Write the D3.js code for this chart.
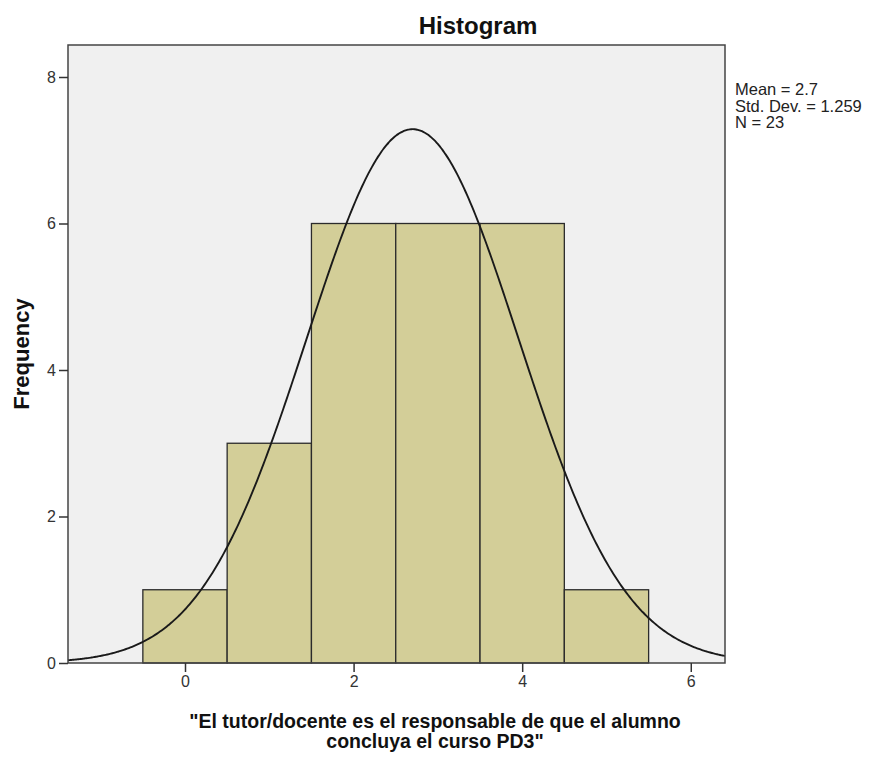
<!DOCTYPE html>
<html><head><meta charset="utf-8">
<script src="https://cdn.jsdelivr.net/npm/d3@7"></script>
<style>body{margin:0;background:#fff;} svg{display:block;font-family:Arial,"Liberation Sans",sans-serif;}</style>
</head><body><svg id="c" width="869" height="758"></svg>
<script>
const binCenters = [0, 1, 2, 3, 4, 5];
const frequencies = [1, 3, 6, 6, 6, 1];
const xTicks = [0, 2, 4, 6];
const yTicks = [0, 2, 4, 6, 8];
const statsLines = ["Mean = 2.7", "Std. Dev. = 1.259", "N = 23"];
const mean = 2.7, sd = 1.259, N = 23, binWidth = 1;

const svg = d3.select("#c");
const L = 68, R = 725, T = 45, B = 663;
const x = d3.scaleLinear().domain([-1.388, 6.406]).range([L, R]);
const y = d3.scaleLinear().domain([0, 8]).range([B, B - 8 * 73.25]);

svg.append("rect").attr("x", L).attr("y", T).attr("width", R - L).attr("height", B - T).attr("fill", "#f0f0f0");

svg.selectAll("rect.bar").data(binCenters).enter().append("rect").attr("class", "bar")
  .attr("x", d => x(d - binWidth / 2)).attr("width", d => x(d + binWidth / 2) - x(d - binWidth / 2))
  .attr("y", (d, i) => y(frequencies[i])).attr("height", (d, i) => y(0) - y(frequencies[i]))
  .attr("fill", "#d3ce98").attr("stroke", "#2b2b2b").attr("stroke-width", 1.3);

const xs = d3.range(0, 401).map(i => -1.388 + i * (6.406 + 1.388) / 400);
const curve = xs.map(v => [v, N * binWidth * Math.exp(-0.5 * ((v - mean) / sd) ** 2) / (sd * Math.sqrt(2 * Math.PI))]);
svg.append("path").datum(curve).attr("fill", "none").attr("stroke", "#1a1a1a").attr("stroke-width", 1.9)
  .attr("d", d3.line().x(d => x(d[0])).y(d => y(d[1])).curve(d3.curveBasis));

svg.append("rect").attr("x", L).attr("y", T).attr("width", R - L).attr("height", B - T)
  .attr("fill", "none").attr("stroke", "#444").attr("stroke-width", 1.5);

const xa = svg.append("g").attr("transform", `translate(0,${B})`)
  .call(d3.axisBottom(x).tickValues(xTicks).tickFormat(d3.format("d")).tickSize(9).tickPadding(4));
xa.select(".domain").remove();
const ya = svg.append("g").attr("transform", `translate(${L},0)`)
  .call(d3.axisLeft(y).tickValues(yTicks).tickFormat(d3.format("d")).tickSize(9).tickPadding(3));
ya.select(".domain").remove();
svg.selectAll(".tick line").attr("stroke", "#333").attr("stroke-width", 1.5);
svg.selectAll(".tick text").attr("font-size", 16).attr("fill", "#333").attr("font-family", "Arial, 'Liberation Sans', sans-serif");

svg.append("text").attr("x", 478).attr("y", 34).attr("text-anchor", "middle")
  .attr("font-size", 24).attr("font-weight", "bold").attr("fill", "#111").text("Histogram");

svg.append("text").attr("transform", "translate(29,354) rotate(-90)").attr("text-anchor", "middle")
  .attr("font-size", 22).attr("font-weight", "bold").attr("fill", "#111").text("Frequency");

svg.append("text").attr("x", 435).attr("y", 728).attr("text-anchor", "middle")
  .attr("font-size", 19.5).attr("font-weight", "bold").attr("fill", "#111")
  .text("\"El tutor/docente es el responsable de que el alumno");
svg.append("text").attr("x", 435).attr("y", 748).attr("text-anchor", "middle")
  .attr("font-size", 19.5).attr("font-weight", "bold").attr("fill", "#111")
  .text("concluya el curso PD3\"");

svg.selectAll("text.stat").data(statsLines).enter().append("text").attr("class", "stat")
  .attr("x", 735).attr("y", (d, i) => 95 + i * 16.5).attr("font-size", 16.5).attr("fill", "#222").text(d => d);
</script></body></html>
